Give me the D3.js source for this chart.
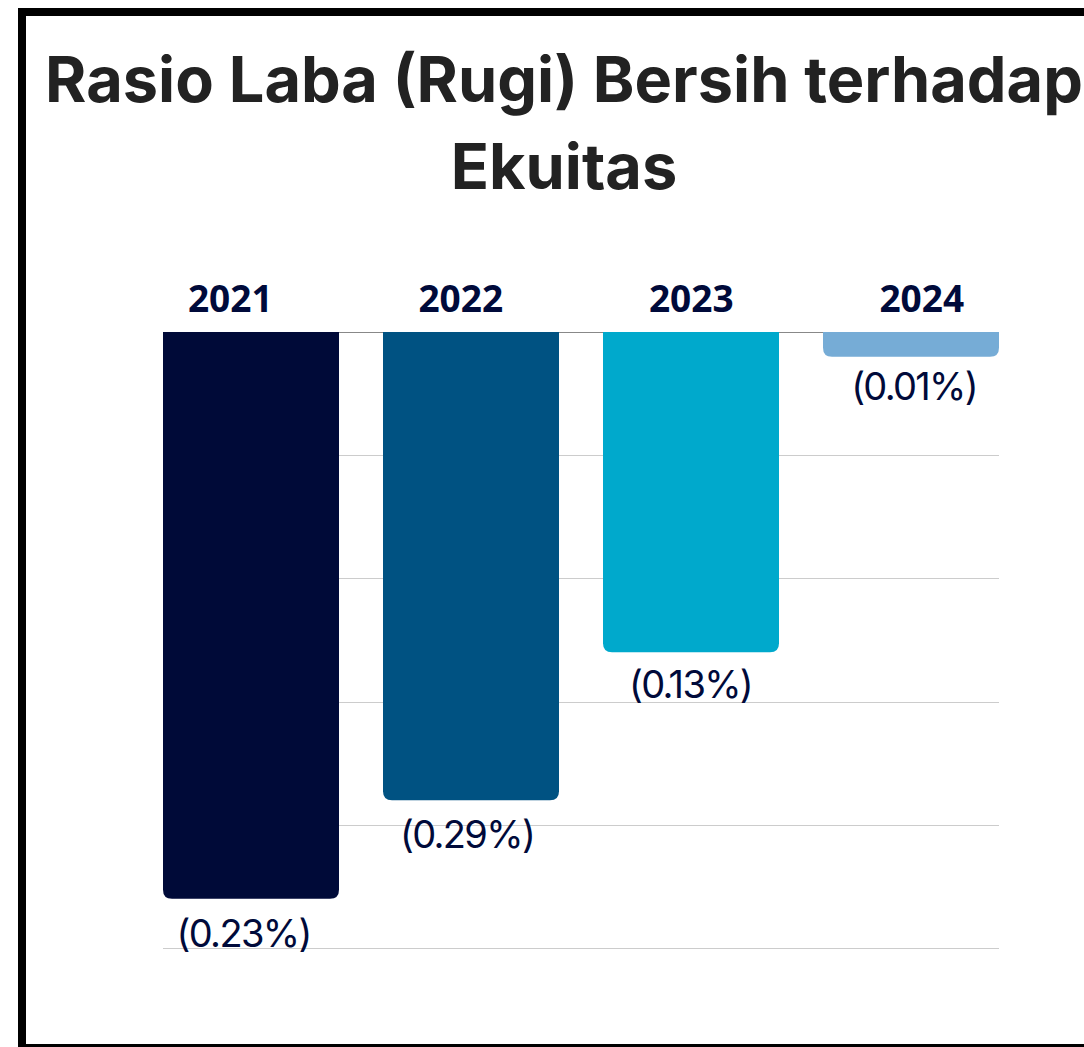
<!DOCTYPE html>
<html>
<head>
<meta charset="utf-8">
<script src="https://cdn.jsdelivr.net/npm/d3@7"></script>
<style>
  html, body { margin: 0; padding: 0; background: #fff; }
  svg { display: block; }
</style>
</head>
<body>
<svg id="chart" width="1084" height="1047"></svg>
<script>
const titleLines = ["Rasio Laba (Rugi) Bersih terhadap", "Ekuitas"];
const years = ["2021", "2022", "2023", "2024"];
const values = [-0.23, -0.19, -0.13, -0.01];
const valueLabels = ["(0.23%)", "(0.29%)", "(0.13%)", "(0.01%)"];
const barColors = ["#000a38", "#005282", "#00a9cc", "#76acd6"];
const yTicks = [0, -0.05, -0.10, -0.15, -0.20, -0.25];

const svg = d3.select("#chart");

// frame
svg.append("rect")
  .attr("x", 22).attr("y", 12)
  .attr("width", 1120).attr("height", 1036)
  .attr("fill", "#fff").attr("stroke", "#000").attr("stroke-width", 8);

// title
const title = svg.append("g").selectAll("text").data(titleLines).join("text")
  .attr("x", 564)
  .attr("y", (d, i) => 102 + i * 87)
  .attr("text-anchor", "middle")
  .attr("font-family", "Inter, 'Liberation Sans', sans-serif")
  .attr("font-weight", "bold")
  .attr("font-size", 60)
  .attr("fill", "#222")
  .text(d => d);
{
  const w = title.nodes()[0].getComputedTextLength();
  title.attr("font-size", 60 * 1038 / w);
}

const x = d3.scaleBand().domain(years).range([163, 999]).paddingInner(0.2).paddingOuter(0);
const xHead = d3.scaleBand().domain(years).range([115, 1037]);
const xLab = d3.scaleBand().domain(years).range([131, 1025]);
const y = d3.scaleLinear().domain([0, -0.25]).range([332, 948]);
const yLab = d3.scaleLinear().domain([0, -0.25]).range([375, 997]);

// gridlines
svg.append("g").selectAll("line").data(yTicks).join("line")
  .attr("x1", 163).attr("x2", 999)
  .attr("y1", d => Math.round(y(d)) + 0.5).attr("y2", d => Math.round(y(d)) + 0.5)
  .attr("stroke", d => d === 0 ? "#888" : "#cccccc")
  .attr("stroke-width", 1);

// bars: square top, rounded bottom
const r = 9;
function barPath(d, i) {
  const x0 = x(years[i]), w = x.bandwidth();
  const y0 = y(0), y1 = y(d);
  const rr = Math.min(r, (y1 - y0));
  return `M${x0},${y0} H${x0 + w} V${y1 - rr} Q${x0 + w},${y1} ${x0 + w - rr},${y1} H${x0 + rr} Q${x0},${y1} ${x0},${y1 - rr} Z`;
}
svg.append("g").selectAll("path").data(values).join("path")
  .attr("d", barPath)
  .attr("fill", (d, i) => barColors[i]);

// year labels
svg.append("g").selectAll("text").data(years).join("text")
  .attr("x", d => xHead(d) + xHead.bandwidth() / 2)
  .attr("y", 312)
  .attr("text-anchor", "middle")
  .attr("font-family", "'Open Sans', sans-serif")
  .attr("font-weight", "bold")
  .attr("font-size", 37)
  .attr("fill", "#000a3a")
  .text(d => d);

// value labels
const vl = svg.append("g").selectAll("text").data(values).join("text")
  .attr("x", (d, i) => xLab(years[i]) + xLab.bandwidth() / 2)
  .attr("y", d => yLab(d))
  .attr("text-anchor", "middle")
  .attr("font-family", "Inter, 'Open Sans', sans-serif")
  .attr("font-size", 38)
  .attr("fill", "#000a3a")
  .text((d, i) => valueLabels[i]);
{
  const w = vl.nodes()[0].getComputedTextLength();
  const ls = (134 - w) / 7;
  vl.attr("letter-spacing", ls).attr("dx", -ls / 2);
}
</script>
</body>
</html>
